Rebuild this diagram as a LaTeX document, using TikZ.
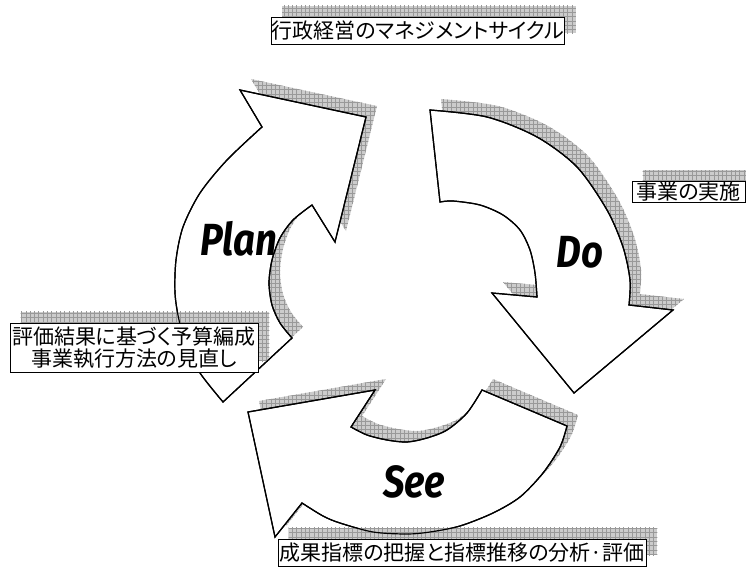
\documentclass[tikz,border=0pt]{standalone}
\usepackage{fontspec}
\newfontfamily\jpfont[RawFeature=+palt]{Noto Sans CJK JP}
\newfontfamily\labfont{Fira Sans}
\usetikzlibrary{patterns}
\pgfdeclarepatternformonly{hatchgrid}{\pgfqpoint{-1pt}{-1pt}}{\pgfqpoint{5.3pt}{5.3pt}}{\pgfqpoint{4.3pt}{4.3pt}}{%
  \pgfsetlinewidth{0.45pt}%
  \pgfpathmoveto{\pgfqpoint{0pt}{0pt}}\pgfpathlineto{\pgfqpoint{4.4pt}{0pt}}%
  \pgfpathmoveto{\pgfqpoint{0pt}{0pt}}\pgfpathlineto{\pgfqpoint{0pt}{4.4pt}}%
  \pgfusepath{stroke}}
\pgfdeclarelayer{ashadow}
\pgfdeclarelayer{afill}
\pgfdeclarelayer{bshadow}
\pgfdeclarelayer{aline}
\pgfsetlayers{ashadow,afill,bshadow,aline,main}
\tikzset{
  shadowfill/.style={fill=black!20, postaction={pattern=hatchgrid, pattern color=black!40}},
  arrowbody/.style={fill=white, draw=black, line width=1.2pt, line join=miter},
  arrowline/.style={draw=black, line width=1.2pt, line join=miter},
  textbox/.style={draw=black, fill=white, line width=0.9pt, inner sep=0pt,
    font=\jpfont\fontsize{21}{22}\selectfont, align=center},
  cyclelabel/.style={font=\labfont\bfseries\itshape\fontsize{45}{45}\selectfont, inner sep=0pt},
}
\def\pathDo{(430,110) -- plot[smooth] coordinates {(430,110) (487,117) (537,137) (577,167) (607,210) (623,247) (630,280) (629,305)}
  -- (673,310) -- (574,393) -- (492,293)
  -- plot[smooth] coordinates {(537,297) (535,273) (530,250) (520,230) (503,215) (480,205) (453,201) (440,202)} -- cycle}
\def\pathPlan{(223,402) -- plot[smooth] coordinates {(223,402) (200,373) (187,347) (179,320) (175,293) (176,260) (183,227) (200,193) (227,160) (262,127)}
  -- (240,90) -- (366,117) -- (335,242)
  -- plot[smooth] coordinates {(312,205) (293,220) (280,238) (272,260) (269,283) (272,305) (280,323) (292,338)} -- cycle}
\def\pathSee{(482,390) -- (567,426) -- plot[smooth] coordinates {(567,426) (560,447) (543,473) (520,497) (493,513) (460,526) (430,532) (407,534) (373,532) (340,523) (323,516) (302,503)}
  -- (275,537) -- (248,412) -- (375,390)
  -- plot[smooth] coordinates {(351,427) (367,435) (387,440) (407,442) (427,438) (447,430) (467,413) (482,390)} -- cycle}
\begin{document}
\begin{tikzpicture}[x=1pt,y=-1pt]
\useasboundingbox (0,0) rectangle (746,567);
% arrow shadows
\begin{pgfonlayer}{ashadow}
  \fill[shadowfill, shift={(11,-11)}] \pathDo;
  \fill[shadowfill, shift={(11,-11)}] \pathPlan;
  \fill[shadowfill, shift={(11,-11)}] \pathSee;
\end{pgfonlayer}
% arrow bodies
\begin{pgfonlayer}{afill}
  \path[arrowbody] \pathDo;
  \path[arrowbody] \pathPlan;
  \path[arrowbody] \pathSee;
\end{pgfonlayer}
% outlines over box shadows
\begin{pgfonlayer}{aline}
  \path[arrowline] \pathDo;
  \path[arrowline] \pathPlan;
  \path[arrowline] \pathSee;
\end{pgfonlayer}
% text boxes
\node[textbox, minimum width=292pt, minimum height=27pt] (title) at (418,30.5) {行政経営のマネジメントサイクル};
\node[textbox, minimum width=113pt, minimum height=21pt] (doing) at (688.5,192) {事業の実施};
\node[textbox, minimum width=248pt, minimum height=49pt] (review) at (134,347.5) {評価結果に基づく予算編成\\事業執行方法の見直し};
\node[textbox, minimum width=368pt, minimum height=27pt] (measure) at (462,552.5) {成果指標の把握と指標推移の分析·評価};
\begin{pgfonlayer}{bshadow}
  \foreach \b in {title,doing,review,measure}{
    \fill[shadowfill] ([shift={(11,-11)}]\b.south west) rectangle ([shift={(11,-11)}]\b.north east);
  }
\end{pgfonlayer}
% cycle labels
\node[cyclelabel] (plan) at (239,239) {\scalebox{0.85}[1]{Plan}};
\node[cyclelabel] (do) at (580,252) {\scalebox{0.85}[1]{Do}};
\node[cyclelabel] (see) at (414,482) {\scalebox{0.85}[1]{See}};
\end{tikzpicture}
\end{document}
